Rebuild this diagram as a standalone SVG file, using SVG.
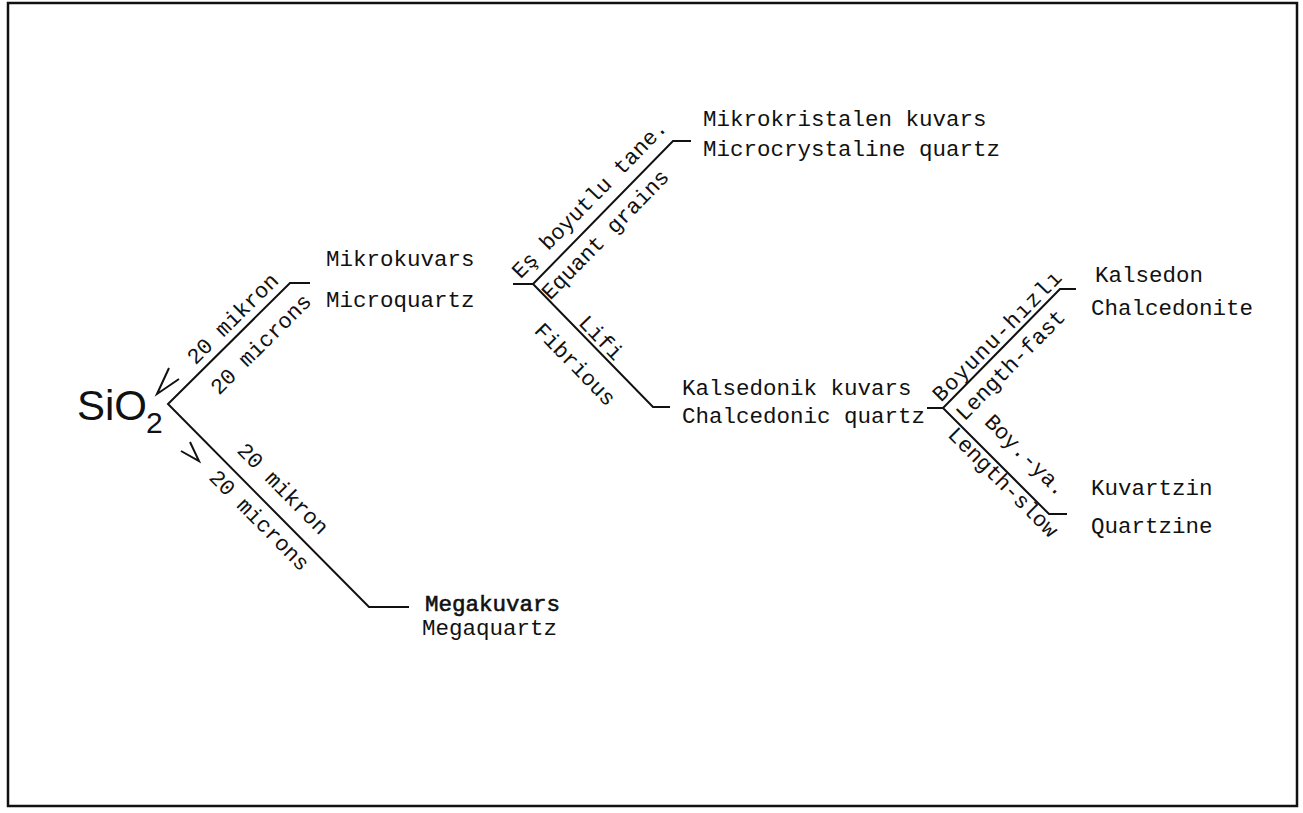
<svg xmlns="http://www.w3.org/2000/svg" width="1303" height="813" viewBox="0 0 1303 813">
<style>
.t{font-family:"Liberation Mono","Courier New",monospace;font-size:22.5px;fill:#111}
.r{font-family:"Liberation Mono","Courier New",monospace;font-size:22px;fill:#111;text-anchor:middle}
.ln{fill:none;stroke:#111;stroke-width:2}
.sio{font-family:"Liberation Sans",Arial,sans-serif;fill:#111}
</style>
<rect x="8" y="3" width="1289" height="803" fill="#fff" stroke="#111" stroke-width="2.5"/>
<g id="connectors">
<path class="ln" d="M310,283 H290 L168,404 L369,607 H409"/>
<path class="ln" d="M513,284 H533"/>
<path class="ln" d="M691,141 H673 L533,284 L653,407 H670"/>
<path class="ln" d="M927,408 H943"/>
<path class="ln" d="M1076,289 H1060 L943,408 L1049,514 H1067"/>
<path class="ln" d="M169,368 L157,394 L179,379"/>
<path class="ln" d="M190,442 L199,461 L181,451"/>
<g transform="translate(168,404) rotate(-44.76)">
<text class="r" x="106" y="-8">20 mikron</text>
<text class="r" x="108" y="30">20 microns</text>
</g>
<g transform="translate(168,404) rotate(45.28)">
<text class="r" x="141" y="-15">20 mikron</text>
<text class="r" x="147" y="24">20 microns</text>
</g>
<g transform="translate(533,284) rotate(-45.6)">
<text class="r" x="100" y="-12">Eş boyutlu tane.</text>
<text class="r" x="86" y="24">Equant grains</text>
</g>
<g transform="translate(533,284) rotate(45.7)">
<text class="r" x="86" y="-4">Lifi</text>
<text class="r" x="87" y="33">Fibrious</text>
</g>
<g transform="translate(943,408) rotate(-45.5)">
<text class="r" x="90" y="-5" letter-spacing="1.4">Boyunu-hızlı</text>
<text class="r" x="78" y="25">Length-fast</text>
</g>
<g transform="translate(943,408) rotate(45)">
<text class="r" x="92" y="-18">Boy.-ya.</text>
<text class="r" x="95" y="17">Length-slow</text>
</g>
</g>
<g id="sio2">
<text class="sio" x="77" y="420" font-size="42">SiO</text>
<text class="sio" x="146" y="433" font-size="30">2</text>
</g>
<g id="microquartz">
<text class="t" x="326" y="266">Mikrokuvars</text>
<text class="t" x="326" y="307">Microquartz</text>
</g>
<g id="megaquartz">
<text class="t" x="425" y="611" stroke="#111" stroke-width="0.6">Megakuvars</text>
<text class="t" x="422" y="635">Megaquartz</text>
</g>
<g id="microcrystalline">
<text class="t" x="703" y="126">Mikrokristalen kuvars</text>
<text class="t" x="703" y="156">Microcrystaline quartz</text>
</g>
<g id="chalcedonic">
<text class="t" x="682" y="395">Kalsedonik kuvars</text>
<text class="t" x="682" y="423">Chalcedonic quartz</text>
</g>
<g id="chalcedonite">
<text class="t" x="1095" y="282">Kalsedon</text>
<text class="t" x="1091" y="315">Chalcedonite</text>
</g>
<g id="quartzine">
<text class="t" x="1091" y="495">Kuvartzin</text>
<text class="t" x="1091" y="533">Quartzine</text>
</g>
</svg>
